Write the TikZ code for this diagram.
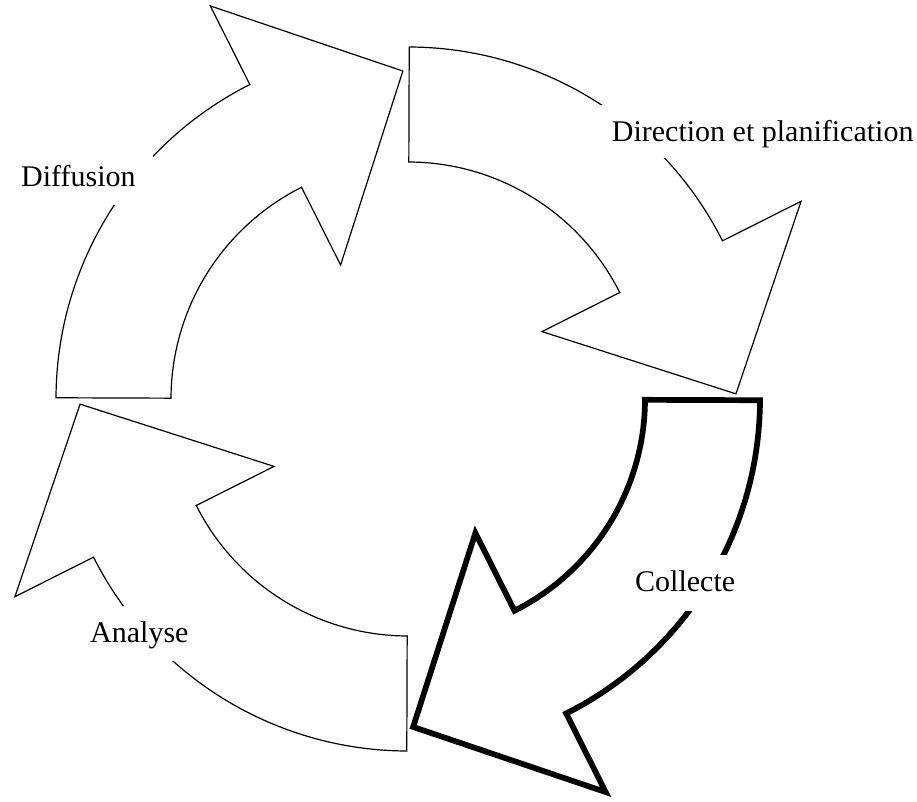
\documentclass[tikz,border=0pt]{standalone}
\usepackage{fontspec}
\setmainfont{Liberation Serif}
\tikzset{
  cyc/.pic={
    \path[pic actions] (89.8:352) arc[start angle=89.8, end angle=26.7, radius=352]
      -- (26.7:440) -- (0.9:328) -- (26.7:150) -- (26.7:237)
      arc[start angle=26.7, end angle=89.8, radius=237] -- cycle;
  }
}
\begin{document}
\begin{tikzpicture}[x=1pt,y=1pt,
  arr/.style={draw=black, fill=white, line width=1.2pt},
  arrbold/.style={draw=black, fill=white, line width=5.7pt},
  lbl/.style={fill=white, inner ysep=0pt, inner xsep=17pt, text height=36.7pt,
    anchor=base west, font=\fontsize{30}{36}\selectfont}]
\useasboundingbox (0,0) rectangle (917,801);
\coordinate (c) at (408,402);
\pic[arr] (pdir) at (c) {cyc};
\pic[arrbold, rotate=-90] (pcol) at (c) {cyc};
\pic[arr, rotate=-180] (pana) at (c) {cyc};
\pic[arr, rotate=-270] (pdif) at (c) {cyc};
\node[lbl, text depth=16.3pt] (ldir) at (594.7,659.3) {Direction et planification};
\node[lbl, text depth=19.3pt] (lcol) at (618,209.3) {Collecte};
\node[lbl, text depth=18pt] (lana) at (73,158.3) {Analyse};
\node[lbl, text depth=18.3pt] (ldif) at (4,614.3) {Diffusion};
\end{tikzpicture}
\end{document}
